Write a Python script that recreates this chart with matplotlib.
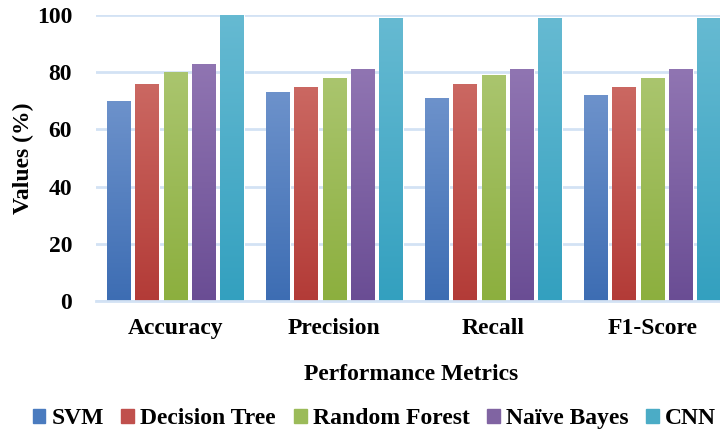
import numpy as np
import matplotlib.pyplot as plt
from matplotlib.colors import LinearSegmentedColormap
from matplotlib.patches import Patch

plt.rcParams['font.family'] = ['Liberation Serif', 'DejaVu Serif']
plt.rcParams['font.weight'] = 'bold'

# data
metrics = ['Accuracy', 'Precision', 'Recall', 'F1-Score']
models = ['SVM', 'Decision Tree', 'Random Forest', 'Naïve Bayes', 'CNN']
svm = [70, 73, 71, 72]
dtree = [76, 75, 76, 75]
rforest = [80, 78, 79, 78]
nbayes = [83, 81, 81, 81]
cnn = [100, 99, 99, 99]
series = [svm, dtree, rforest, nbayes, cnn]

# (top colour, bottom colour) per model
tops = ['#6d92cb', '#cb6862', '#aac56e', '#9075b2', '#66bad2']
bottoms = ['#3d6db3', '#b33b37', '#8caf3e', '#6a4d94', '#33a0bf']
solid = ['#4a7bbf', '#c0504d', '#9bbb59', '#8064a2', '#4bacc6']

fig = plt.figure(figsize=(7.2, 4.34), dpi=100)
ax = fig.add_axes([0.133, 0.3065, 0.875, 0.6589])

x = np.arange(len(metrics))
pitch = 0.178
width = 0.148
grad = np.linspace(1, 0, 256).reshape(-1, 1)

for i, vals in enumerate(series):
    pos = x + (i - 2) * pitch
    bars = ax.bar(pos, vals, width, color=solid[i], edgecolor='white',
                  linewidth=0.8, zorder=2)
    cmap = LinearSegmentedColormap.from_list('g%d' % i, [bottoms[i], tops[i]])
    for b in bars:
        bx, by = b.get_x(), b.get_y()
        bw, bh = b.get_width(), b.get_height()
        im = ax.imshow(grad, cmap=cmap, aspect='auto', origin='upper',
                       extent=[bx, bx + bw, by, by + bh], zorder=2.5)
        im.set_clip_path(b)

ax.set_xlim(-0.5, 3.46)
ax.set_ylim(0, 100)
ax.set_yticks(range(0, 101, 20))
ax.set_xticks(x)
ax.set_xticklabels(metrics, fontsize=17, fontweight='bold')
ax.tick_params(axis='y', labelsize=17, length=0, pad=17)
ax.tick_params(axis='x', length=0, pad=12)
ax.grid(axis='y', color='#d3e2f4', linewidth=2, zorder=0)
ax.set_axisbelow(True)
for s in ['top', 'right', 'left']:
    ax.spines[s].set_visible(False)
ax.spines['bottom'].set_color('#d3e2f4')
ax.spines['bottom'].set_linewidth(2)

ax.set_ylabel('Values (%)', fontsize=17, fontweight='bold', labelpad=2)
ax.set_xlabel('Performance Metrics', fontsize=17, fontweight='bold', labelpad=18)

handles = [Patch(color=solid[i]) for i in range(len(models))]
fig.legend(handles, models, loc='center', bbox_to_anchor=(0.52, 0.035), ncol=5,
           frameon=False, prop={'size': 17, 'weight': 'bold'},
           handlelength=0.55, handleheight=0.55, handletextpad=0.25,
           columnspacing=0.75)

fig.savefig('out.png', dpi=100)
